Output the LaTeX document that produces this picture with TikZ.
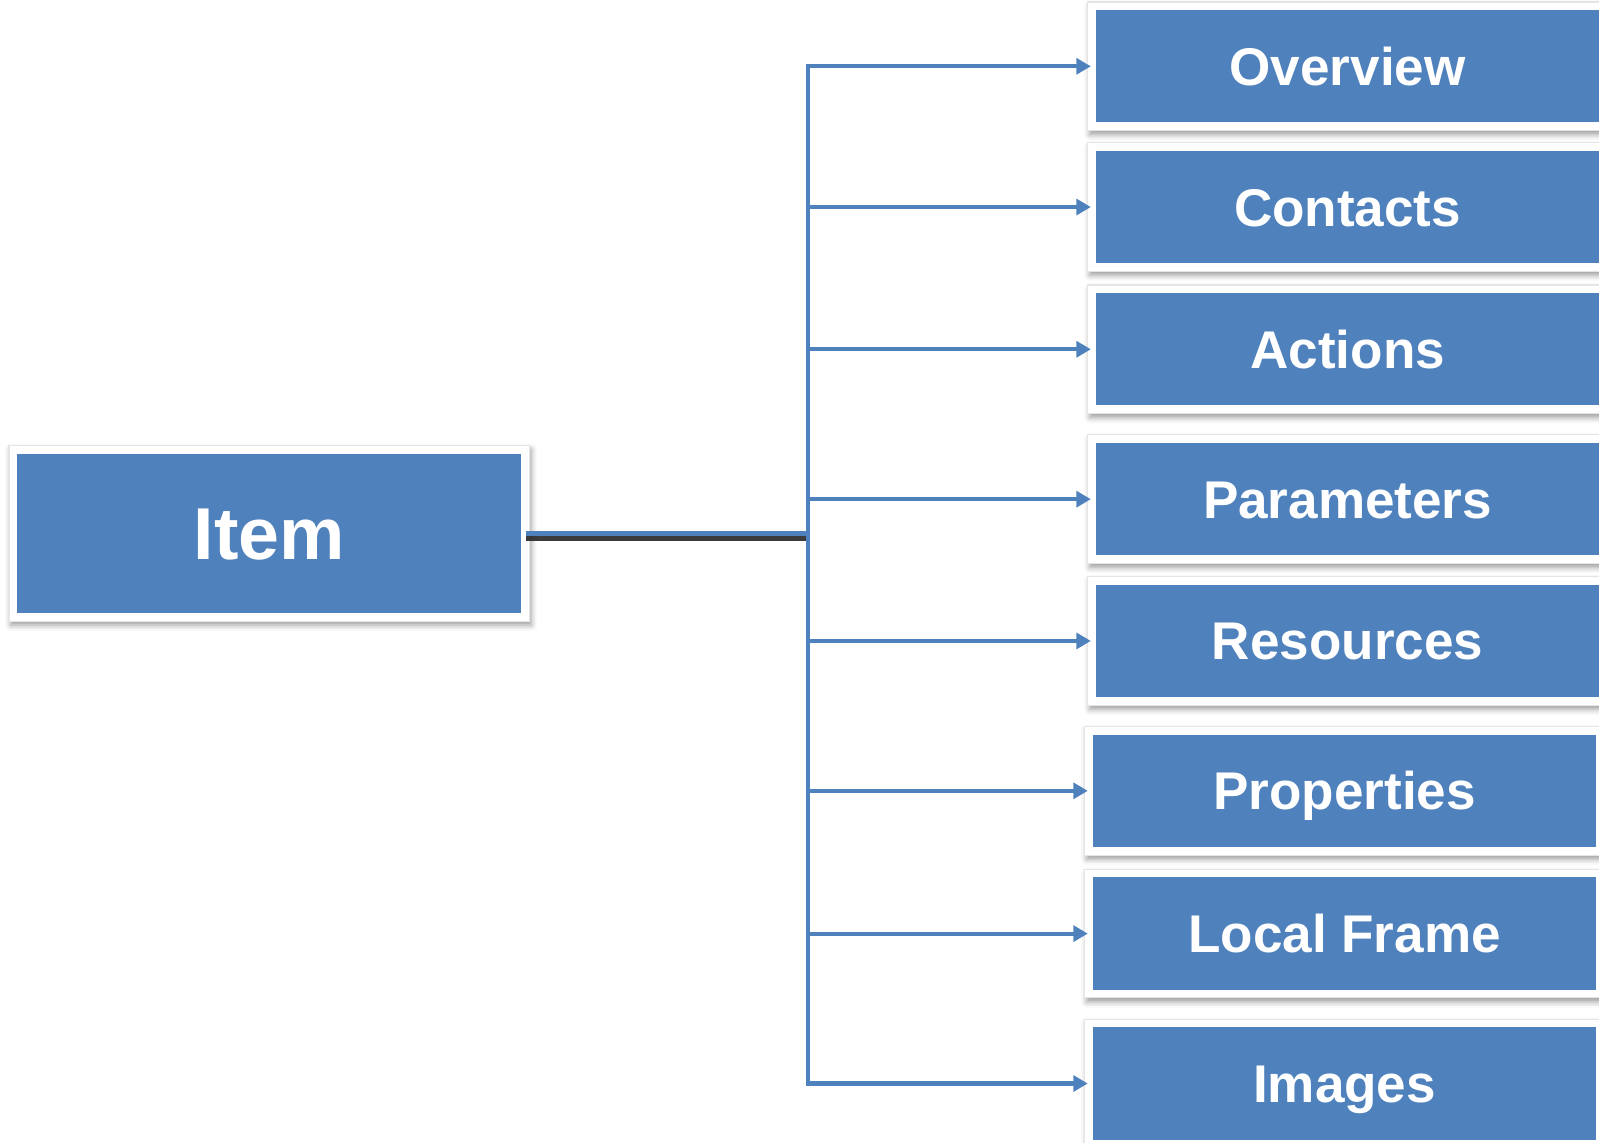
\documentclass[tikz,border=0pt]{standalone}
\usepackage{fontspec}
\setsansfont{Liberation Sans}
\usetikzlibrary{arrows.meta,shadows.blur}
\definecolor{boxblue}{HTML}{4F81BD}
\begin{document}
\begin{tikzpicture}[x=0.01cm,y=-0.01cm,
  box/.style={rectangle, fill=white, draw=black!10, line width=0.3pt, inner sep=0pt, outer sep=0pt,
    text=white, font=\sffamily\bfseries\fontsize{14.8}{17}\selectfont,
    text height=10.6pt, text depth=0pt,
    path picture={\fill[boxblue] ([xshift=0.08cm,yshift=-0.08cm]path picture bounding box.north west)
       rectangle ([xshift=-0.08cm,yshift=0.08cm]path picture bounding box.south east);},
    blur shadow={shadow xshift=0.5pt, shadow yshift=-1.1pt, shadow blur radius=1.6pt, shadow opacity=40}},
  sub/.style={box, minimum width=5.09cm, minimum height=1.26cm},
  conn/.style={draw=boxblue, line width=0.04cm, shorten >=-0.8pt, -{Triangle[length=4pt,width=4.4pt]}},
]
\useasboundingbox (0,0) rectangle (1568,1120);
\clip (0,0) rectangle (1568,1120);

\node[box, minimum width=5.10cm, minimum height=1.72cm,
  font=\sffamily\bfseries\fontsize{20.5}{24}\selectfont, text height=14.7pt] (item) at (264,523) {Item};

\node[sub] (ov) at (1321.5,65)   {Overview};
\node[sub] (co) at (1321.5,203)  {Contacts};
\node[sub] (ac) at (1321.5,342.5) {Actions};
\node[sub] (pa) at (1321.5,489.5) {Parameters};
\node[sub] (re) at (1321.5,628.5) {Resources};
\node[sub] (pr) at (1318.5,775.5) {Properties};
\node[sub] (lf) at (1318.5,915.5) {Local Frame};
\node[sub] (im) at (1318.5,1062.5) {Images};

\coordinate (j) at (792,523);

\foreach \t in {ov,co,ac,pa,re,pr,lf,im}
  \draw[conn] (j) |- (\t.west);

\draw[line width=0.05cm, draw=black!85, opacity=0.9] ([xshift=-1pt,yshift=-1.3pt]item.east) -- ([yshift=-1.3pt,xshift=-0.5pt]j);
\draw[line width=0.05cm, draw=boxblue] ([xshift=-1pt]item.east) -- ([xshift=0.6pt]j);
\end{tikzpicture}
\end{document}
